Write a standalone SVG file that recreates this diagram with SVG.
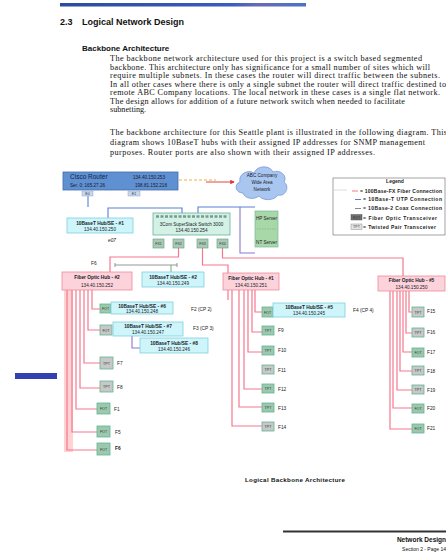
<svg xmlns="http://www.w3.org/2000/svg" width="446" height="552" viewBox="0 0 446 552">
<defs>
<linearGradient id="bar" x1="0" x2="1" y1="0" y2="0">
<stop offset="0" stop-color="#2c4aa0"/><stop offset="0.7" stop-color="#3a5cc0"/><stop offset="0.8" stop-color="#6a6ab0"/><stop offset="1" stop-color="#4a72c8"/>
</linearGradient>
<marker id="arr" viewBox="0 0 6 6" refX="5" refY="3" markerWidth="5" markerHeight="5" orient="auto"><path d="M0,0 L6,3 L0,6 z" fill="#e03030"/></marker>
</defs>
<style>
.body{font-family:"Liberation Serif","Times New Roman",serif;font-size:8.2px;fill:#111}
.h1{font-family:"Liberation Sans",Arial,sans-serif;font-weight:bold;font-size:9px;fill:#111}
.h2{font-family:"Liberation Sans",Arial,sans-serif;font-weight:bold;font-size:8px;fill:#111}
.t{font-family:"Liberation Sans",Arial,sans-serif;font-size:4.6px;fill:#1a1a2a}
.tb{font-family:"Liberation Sans",Arial,sans-serif;font-size:4.8px;font-weight:bold;fill:#1a1a2a}
.lbl{font-family:"Liberation Sans",Arial,sans-serif;font-size:4.8px;fill:#222}
.lg{font-family:"Liberation Sans",Arial,sans-serif;font-size:5px;font-weight:bold;fill:#222}
.fiber{fill:none;stroke:#f5788f;stroke-width:1.2}
.utp{fill:none;stroke:#5a7fd6;stroke-width:1.1}
.purp{fill:none;stroke:#8a78d0;stroke-width:1.1}
.coax{fill:none;stroke:#8a8a8a;stroke-width:0.9}
.phub{fill:#fcd3da;stroke:#f08a9a;stroke-width:0.8}
.chub{fill:#cdf5fa;stroke:#7fd0e0;stroke-width:0.8}
.fot{fill:#9cc9ad;stroke:#5fb597;stroke-width:0.8}
.tpt{fill:#c6c9c7;stroke:#5fb597;stroke-width:0.8}
.port{fill:#a9c9b4;stroke:#6aa88a;stroke-width:0.7}
.bx{font-family:"Liberation Sans",Arial,sans-serif;font-size:3.6px;fill:#333;text-anchor:middle}
</style>
<rect width="446" height="552" fill="#ffffff"/>
<!-- page header -->
<rect x="60" y="3" width="246" height="3.5" fill="url(#bar)"/>
<text class="h1" x="60" y="25">2.3</text>
<text class="h1" x="82" y="25">Logical Network Design</text>
<text class="h2" x="82" y="51">Backbone Architecture</text>
<g class="body">
<text x="110" y="61" textLength="312" lengthAdjust="spacing">The backbone network architecture used for this project is a switch based segmented</text>
<text x="110" y="69.5" textLength="320" lengthAdjust="spacing">backbone.  This architecture only has significance for a small number of sites which will</text>
<text x="110" y="78" textLength="330" lengthAdjust="spacing">require multiple subnets.  In these cases the router will direct traffic between the subnets.</text>
<text x="110" y="86.5" textLength="336" lengthAdjust="spacing">In all other cases where there is only a single subnet the router will direct traffic destined to</text>
<text x="110" y="95" textLength="330" lengthAdjust="spacing">remote ABC Company locations.  The local network in these cases is a single flat network.</text>
<text x="110" y="103.5" textLength="295" lengthAdjust="spacing">The design allows for addition of a future network switch when needed to facilitate</text>
<text x="110" y="112">subnetting.</text>
<text x="110" y="135" textLength="337" lengthAdjust="spacing">The backbone architecture for this Seattle plant is illustrated in the following diagram.  This</text>
<text x="110" y="145" textLength="315" lengthAdjust="spacing">diagram shows 10BaseT hubs with their assigned IP addresses for SNMP management</text>
<text x="110" y="155" textLength="265" lengthAdjust="spacing">purposes.  Router ports are also shown with their assigned IP addresses.</text>
</g>
<rect x="15" y="373" width="42" height="6" fill="#3341b0"/>

<!-- connectors -->
<g id="connectors">
<path d="M179,180 H216" fill="none" stroke="#f0b040" stroke-width="1" stroke-dasharray="3,2"/>
<path d="M206,182 H234" fill="none" stroke="#e03030" stroke-width="0.9" marker-end="url(#arr)"/>
<path class="utp" d="M88,196 V207"/>
<path class="utp" d="M108,218 V208 H182 V213"/>
<path class="utp" d="M198,213 V207 H255"/>
<path class="purp" d="M240,207 V253 H255"/>
<path class="fiber" d="M178.5,248 V257 H110 V272"/>
<path class="fiber" d="M202.5,248 V265 H228 V273"/>
<path class="fiber" d="M222.5,248 V258 H403 V276"/>
<path class="coax" d="M115,265 H177 M115,263 V267 M177,263 V267"/>
<path d="M171,265 V272" stroke="#6ab06a" stroke-width="1" fill="none"/>
<!-- left column -->
<rect x="64" y="290" width="9" height="162" fill="#ffd3d3"/>
<path class="fiber" d="M92,290 V309 H100"/>
<path class="fiber" d="M88,290 V330 H100"/>
<path class="fiber" d="M84,290 V363 H100"/>
<path class="fiber" d="M80,290 V388 H100" stroke="#f89a80"/>
<path class="fiber" d="M76,290 V409 H97"/>
<path class="fiber" d="M72,290 V432 H97"/>
<path class="fiber" d="M67,290 V450 H97"/>
<path class="purp" d="M132,336 V348 H140"/>
<!-- middle column -->
<path class="fiber" d="M255,290 V312 H262"/>
<path class="fiber" d="M252,290 V332 H262"/>
<path class="fiber" d="M248,290 V352 H262"/>
<path class="fiber" d="M244,290 V389 H262"/>
<path class="fiber" d="M239,290 V407 H262"/>
<path class="fiber" d="M232,290 V426 H262"/>
<path class="fiber" d="M228,290 V300"/>
<!-- right column -->
<path class="fiber" d="M409,291 V312 H412"/>
<path class="fiber" d="M406,291 V333 H412"/>
<path class="fiber" d="M403,291 V352 H412"/>
<path class="fiber" d="M400,291 V371 H412"/>
<path class="fiber" d="M397,291 V390 H412"/>
<path class="fiber" d="M393,291 V408 H412"/>
<path class="fiber" d="M390,291 V429 H412" stroke="#ff6fb8"/>
</g>

<!-- nodes -->
<g id="router">
<rect x="63" y="172" width="115" height="18" fill="#5f90d2" stroke="#3f6eb0" stroke-width="0.8"/>
<text x="70" y="179" font-family="Liberation Sans, Arial, sans-serif" font-size="6.5" fill="#13254a">Cisco Router</text>
<text x="70" y="187" class="t" font-size="4.6">Ser. 0: 165.27.26</text>
<text x="133" y="179" class="t" font-size="4.8">134.40.150.253</text>
<text x="135" y="186.5" class="t">198.81.152.218</text>
<rect x="82" y="191" width="11" height="5" fill="#c8d8ec" stroke="#8aa6cc" stroke-width="0.5"/>
<text class="bx" x="87.5" y="194.8">E0</text>
<rect x="128" y="191" width="12" height="5" fill="#c8d8ec" stroke="#8aa6cc" stroke-width="0.5"/>
<text class="bx" x="134" y="194.8">E1</text>
</g>
<g id="wan">
<path d="M243,193 C235,193 234,184 240,182 C238,174 248,169 254,173 C257,165 270,165 273,172 C280,169 288,176 284,182 C290,186 286,197 278,195 C274,201 263,201 259,196 C254,200 245,199 243,193 Z" fill="#a9c6f0" stroke="#7a9ad8" stroke-width="0.8"/>
<text class="t" x="262" y="177" text-anchor="middle">ABC Company</text>
<text class="t" x="262" y="184" text-anchor="middle">Wide Area</text>
<text class="t" x="262" y="191" text-anchor="middle">Network</text>
</g>
<g id="hub1">
<rect class="chub" x="67" y="218" width="66" height="15"/>
<text class="tb" x="100" y="224.5" text-anchor="middle">10BaseT Hub/SE - #1</text>
<text class="t" x="100" y="231" text-anchor="middle">134.40.150.250</text>
<text class="lbl" x="108" y="242" font-style="italic">e07</text>
</g>
<g id="switch">
<rect x="153" y="213" width="77" height="22" fill="#d3f1e4" stroke="#6ab0a0" stroke-width="0.8"/>
<path d="M156,216.5 H227" stroke="#7a9a90" stroke-width="2.5" stroke-dasharray="3,1.5" fill="none"/>
<text class="t" x="191.5" y="226" text-anchor="middle">3Com SuperStack Switch 3000</text>
<text class="t" x="191.5" y="232" text-anchor="middle">134.40.150.254</text>
<rect class="port" x="153" y="239" width="11" height="9"/><text class="bx" x="158.5" y="245">FX1</text>
<rect class="port" x="173" y="239" width="11" height="9"/><text class="bx" x="178.5" y="245">FX2</text>
<rect class="port" x="197" y="239" width="11" height="9"/><text class="bx" x="202.5" y="245">FX3</text>
<rect class="port" x="217" y="239" width="11" height="9"/><text class="bx" x="222.5" y="245">FX4</text>
</g>
<g id="servers">
<rect x="255" y="211" width="23" height="36" fill="#a8d8a8" stroke="#7ab8a0" stroke-width="0.7"/>
<path d="M257,229 H276" stroke="#7aa890" stroke-width="0.6" stroke-dasharray="1.5,1"/>
<text class="t" x="266.5" y="220" text-anchor="middle" font-size="4">HP Server</text>
<text class="t" x="266.5" y="244" text-anchor="middle" font-size="4">NT Server</text>
</g>
<g id="legend">
<rect x="333" y="178" width="112" height="57" fill="#fff" stroke="#666" stroke-width="0.6"/>
<text class="lg" x="395" y="183" text-anchor="middle">Legend</text>
<path d="M334,190 H347" stroke="#bbb" stroke-width="0.5"/>
<path d="M352,191 H358" stroke="#f5788f" stroke-width="1"/>
<text class="lg" x="360" y="192.5" textLength="82" lengthAdjust="spacing">= 100Base-FX Fiber Connection</text>
<path d="M355,199.5 H361" stroke="#5a7fd6" stroke-width="1"/>
<text class="lg" x="363" y="201" textLength="79" lengthAdjust="spacing">= 10Base-T UTP Connection</text>
<path d="M355,208.5 H361" stroke="#8a8a8a" stroke-width="1"/>
<text class="lg" x="363" y="210" textLength="79" lengthAdjust="spacing">= 10Base-2 Coax Connection</text>
<rect x="351" y="214.5" width="11" height="5.5" fill="#707070" stroke="#444" stroke-width="0.4"/>
<text class="bx" x="356.5" y="218.7" fill="#fff">FOT</text>
<text class="lg" x="363" y="219.5" textLength="74" lengthAdjust="spacing">= Fiber Optic Transceiver</text>
<rect x="351" y="224" width="11" height="5.5" fill="#e4e4e4" stroke="#777" stroke-width="0.4"/>
<text class="bx" x="356.5" y="228.2">TPT</text>
<text class="lg" x="363" y="229" textLength="73" lengthAdjust="spacing">= Twisted Pair Transceiver</text>
</g>
<g id="fohub2">
<rect class="phub" x="62" y="272" width="70" height="18"/>
<text class="tb" x="97" y="279" text-anchor="middle">Fiber Optic Hub - #2</text>
<text class="t" x="97" y="286.5" text-anchor="middle">134.40.150.252</text>
<text class="lbl" x="91" y="265">F6</text>
</g>
<g id="hub2">
<rect class="chub" x="142" y="272" width="62" height="15"/>
<text class="tb" x="173" y="278.5" text-anchor="middle">10BaseT Hub/SE - #2</text>
<text class="t" x="173" y="285" text-anchor="middle">134.40.150.249</text>
</g>
<g id="fohub1">
<rect class="phub" x="223" y="273" width="56" height="17"/>
<text class="tb" x="251" y="279.5" text-anchor="middle">Fiber Optic Hub - #1</text>
<text class="t" x="251" y="287" text-anchor="middle">134.40.150.251</text>
</g>
<g id="fohub5">
<rect class="phub" x="378" y="276" width="67" height="15"/>
<text class="tb" x="411.5" y="282" text-anchor="middle">Fiber Optic Hub - #5</text>
<text class="t" x="411.5" y="289" text-anchor="middle">134.40.150.250</text>
</g>
<g id="hub6">
<rect class="fot" x="100" y="304" width="11" height="9"/><text class="bx" x="105.5" y="310">FOT</text>
<rect class="chub" x="111" y="302" width="62" height="12"/>
<text class="tb" x="142" y="307.5" text-anchor="middle">10BaseT Hub/SE - #6</text>
<text class="t" x="142" y="312.8" text-anchor="middle">134.40.150.248</text>
<text class="lbl" x="191" y="311">F2 (CP 2)</text>
</g>
<g id="hub7">
<rect class="tpt" x="100" y="325" width="12" height="10"/><text class="bx" x="106" y="331.5">FOT</text>
<rect class="chub" x="113" y="322" width="70" height="14" stroke="#9a8ad8"/>
<text class="tb" x="148" y="328" text-anchor="middle">10BaseT Hub/SE - #7</text>
<text class="t" x="148" y="334" text-anchor="middle">134.40.150.247</text>
<text class="lbl" x="193" y="329.5">F3 (CP 3)</text>
</g>
<g id="hub8">
<rect class="chub" x="140" y="338" width="68" height="15"/>
<text class="tb" x="174" y="344.5" text-anchor="middle">10BaseT Hub/SE - #8</text>
<text class="t" x="174" y="351" text-anchor="middle">134.40.150.246</text>
</g>
<g id="left-f7"><rect class="tpt" x="100" y="357" width="13" height="12"/><text class="bx" x="106.5" y="364.5">TPT</text><text class="lbl" x="117" y="365">F7</text></g>
<g id="left-f8"><rect class="tpt" x="100" y="381" width="13" height="11"/><text class="bx" x="106.5" y="388">TPT</text><text class="lbl" x="117" y="389">F8</text></g>
<g id="left-f1"><rect class="fot" x="97" y="403" width="13" height="11" fill="#b8b8c0"/><text class="bx" x="103.5" y="410">FOT</text><text class="lbl" x="114" y="411" fill="#3344aa">F1</text></g>
<g id="left-f5"><rect class="fot" x="97" y="426" width="13" height="11"/><text class="bx" x="103.5" y="433">FOT</text><text class="lbl" x="115" y="434">F5</text></g>
<g id="left-f6"><rect class="fot" x="97" y="443" width="13" height="12"/><text class="bx" x="103.5" y="450.5">FOT</text><text class="lbl" x="115" y="450" font-weight="bold">F6</text></g>
<g id="hub5">
<rect class="fot" x="262" y="307" width="11" height="10"/><text class="bx" x="267.5" y="313.5">FOT</text>
<rect class="chub" x="273" y="303" width="72" height="14"/>
<text class="tb" x="309" y="309" text-anchor="middle">10BaseT Hub/SE - #5</text>
<text class="t" x="309" y="315" text-anchor="middle">134.40.150.245</text>
<text class="lbl" x="353" y="312">F4 (CP 4)</text>
</g>
<g id="mid-f9"><rect class="fot" x="262" y="326" width="12" height="9"/><text class="bx" x="268" y="332">TPT</text><text class="lbl" x="278" y="332">F9</text></g>
<g id="mid-f10"><rect class="fot" x="262" y="346" width="12" height="9"/><text class="bx" x="268" y="352">TPT</text><text class="lbl" x="278" y="352">F10</text></g>
<g id="mid-f11"><rect class="tpt" x="262" y="365" width="12" height="9"/><text class="bx" x="268" y="371">TPT</text><text class="lbl" x="278" y="371.5">F11</text></g>
<g id="mid-f12"><rect class="fot" x="262" y="384" width="12" height="9"/><text class="bx" x="268" y="390">TPT</text><text class="lbl" x="278" y="390.5">F12</text></g>
<g id="mid-f13"><rect class="fot" x="262" y="403" width="12" height="9"/><text class="bx" x="268" y="409">TPT</text><text class="lbl" x="278" y="409.5">F13</text></g>
<g id="mid-f14"><rect class="tpt" x="262" y="422" width="12" height="9"/><text class="bx" x="268" y="428">TPT</text><text class="lbl" x="278" y="428.5">F14</text></g>
<g id="right-f15"><rect class="tpt" x="412" y="307" width="12" height="10"/><text class="bx" x="418" y="313.5">TPT</text><text class="lbl" x="427" y="313">F15</text></g>
<g id="right-f16"><rect class="tpt" x="412" y="328" width="12" height="9"/><text class="bx" x="418" y="334">TPT</text><text class="lbl" x="427" y="334">F16</text></g>
<g id="right-f17"><rect class="fot" x="412" y="348" width="12" height="9"/><text class="bx" x="418" y="354">FOT</text><text class="lbl" x="427" y="354">F17</text></g>
<g id="right-f18"><rect class="tpt" x="412" y="366" width="12" height="9"/><text class="bx" x="418" y="372">TPT</text><text class="lbl" x="427" y="372.5">F18</text></g>
<g id="right-f19"><rect class="tpt" x="412" y="385" width="12" height="9"/><text class="bx" x="418" y="391">TPT</text><text class="lbl" x="427" y="391.5">F19</text></g>
<g id="right-f20"><rect class="fot" x="412" y="404" width="12" height="9"/><text class="bx" x="418" y="410">FOT</text><text class="lbl" x="427" y="410">F20</text></g>
<g id="right-f21"><rect class="fot" x="412" y="424" width="12" height="9"/><text class="bx" x="418" y="430">FOT</text><text class="lbl" x="427" y="430">F21</text></g>

<text x="245" y="482" font-family="Liberation Sans, Arial, sans-serif" font-size="6.2" font-weight="bold" fill="#111" textLength="100" lengthAdjust="spacing">Logical Backbone Architecture</text>
<!-- footer -->
<rect x="283" y="530.5" width="163" height="2" fill="#333"/>
<text x="446" y="542" text-anchor="end" font-family="Liberation Sans, Arial, sans-serif" font-size="6.5" font-weight="bold" fill="#111">Network Design</text>
<text x="446" y="551" text-anchor="end" font-family="Liberation Sans, Arial, sans-serif" font-size="5" fill="#111">Section 2 - Page 14</text>
</svg>
